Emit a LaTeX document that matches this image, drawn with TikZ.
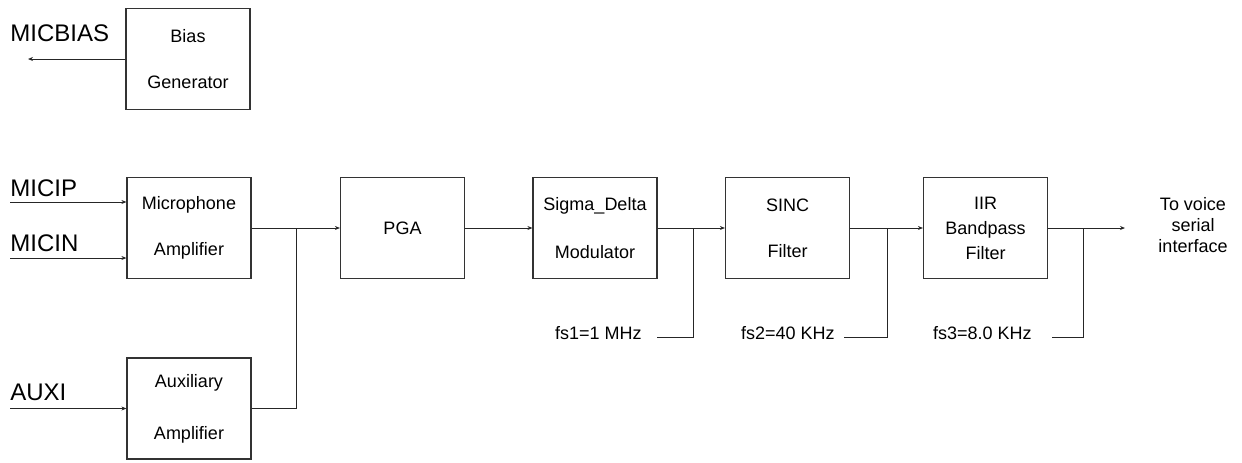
\documentclass[tikz,border=0pt]{standalone}
\usepackage{fontspec}
\setmainfont{Liberation Sans}
\usetikzlibrary{arrows.meta}
\begin{document}
\begin{tikzpicture}[x=0.5pt,y=-0.5pt,
  blk/.style={draw=black!80, line width=0.6pt, minimum width=62pt, minimum height=50.5pt,
    inner sep=0pt, align=center, font=\fontsize{9}{23}\selectfont},
  wire/.style={draw=black!85, line width=0.5pt},
  arr/.style={wire, -{Stealth[length=2.5pt,width=2pt]}},
  pin/.style={font=\fontsize{12}{14}\selectfont, inner sep=0pt},
  rate/.style={font=\fontsize{9}{11}\selectfont, inner sep=0pt, anchor=east}]
\useasboundingbox (0,0) rectangle (1242,462);

% functional blocks
\node[blk] (bias) at (188,59) {Bias\\Generator};
\node[blk] (mic)  at (189,228) {\raisebox{-2pt}{Microphone}\\\raisebox{-2pt}{Amplifier}};
\node[blk, font=\fontsize{9}{26}\selectfont] (aux) at (189,408.5) {Auxiliary\\Amplifier};
\node[blk] (pga)  at (402.5,228) {PGA};
\node[blk] (sd)   at (595,228) {\raisebox{1pt}{Sigma\_Delta}\\Modulator};
\node[blk] (sinc) at (787.5,228) {SINC\\Filter};
\node[blk, font=\fontsize{9}{12.5}\selectfont] (iir) at (985.5,228) {IIR\\Bandpass\\Filter};

% pin names
\node[pin, anchor=west] (lbias) at (10,33) {MICBIAS};
\node[pin, anchor=west] (lip)   at (10,188) {MICIP};
\node[pin, anchor=west] (lin)   at (10,243) {MICIN};
\node[pin, anchor=west] (laux)  at (10,392) {AUXI};

% free ends and junctions
\coordinate (mbout) at (28,59);
\coordinate (ipin) at (10,202);
\coordinate (inin) at (10,258);
\coordinate (auin) at (10,408.5);
\coordinate (j1) at (296,228);
\coordinate (j2) at (693,228);
\coordinate (j3) at (887,228);
\coordinate (j4) at (1083,228);
\coordinate (f1) at (657,337);
\coordinate (f2) at (844,337);
\coordinate (f3) at (1052,337);
\coordinate (vout) at (1125,228);

% sampling-rate labels
\node[rate] (fs1) at (642,333) {fs1=1 MHz};
\node[rate] (fs2) at (835,333) {fs2=40 KHz};
\node[rate] (fs3) at (1032,333) {fs3=8.0 KHz};

% output destination
\node[font=\fontsize{9}{10.5}\selectfont, align=center, inner sep=0pt] (dest) at (1193,225)
  {To voice\\serial\\interface};

% signal path
\draw[arr] (bias.west) -- (mbout);
\draw[arr] (ipin) -- (ipin -| mic.west);
\draw[arr] (inin) -- (inin -| mic.west);
\draw[arr] (auin) -- (aux.west);
\draw[arr] (mic.east) -- (pga.west);
\draw[wire] (aux.east) -| (j1);
\draw[arr] (pga.east) -- (sd.west);
\draw[arr] (sd.east) -- (sinc.west);
\draw[arr] (sinc.east) -- (iir.west);
\draw[arr] (iir.east) -- (vout);

% clock feeds
\draw[wire] (j2) |- (f1);
\draw[wire] (j3) |- (f2);
\draw[wire] (j4) |- (f3);
\end{tikzpicture}
\end{document}
